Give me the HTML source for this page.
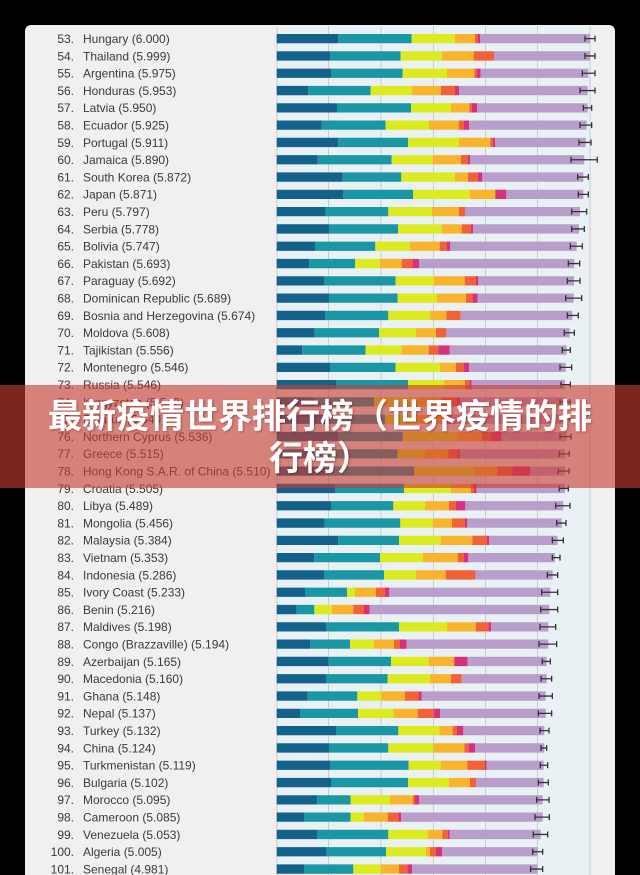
<!DOCTYPE html>
<html>
<head>
<meta charset="utf-8">
<style>
html,body{margin:0;padding:0;background:#000;}
body{width:640px;height:875px;position:relative;overflow:hidden;}
svg{position:absolute;left:0;top:0;}
text{font-family:"Liberation Sans",sans-serif;font-size:12px;fill:#3a3a3a;}
text.r{text-anchor:end;}
path{fill:none;stroke-width:9.3;}
.a{stroke:#12628c}.b{stroke:#1a97a4}.c{stroke:#dbeb1f}.d{stroke:#f8b42c}.e{stroke:#f16337}.f{stroke:#d9307a}.g{stroke:#b99dca}
.er{stroke:#333;stroke-width:1.3;vector-effect:non-scaling-stroke;}
#banner{position:absolute;left:0;top:385px;width:640px;height:103px;background:rgba(200,62,52,0.62);}
#title{position:absolute;left:0;top:396px;width:640px;text-align:center;color:#fff;font-family:"Liberation Sans","Noto Sans CJK SC",sans-serif;font-weight:700;font-size:34px;line-height:42px;white-space:nowrap;text-shadow:1px 1px 2px rgba(80,0,0,0.35);}
</style>
</head>
<body>
<svg width="640" height="875" viewBox="0 0 640 875" xmlns="http://www.w3.org/2000/svg">
<rect x="25" y="25" width="590" height="870" rx="6" fill="#f0f0f0"/>
<rect x="277" y="26" width="313" height="849" fill="#e9f1f5"/>
<g stroke="#c9cdd0" stroke-width="1">
<line x1="277" y1="26" x2="277" y2="875"/>
<line x1="328.5" y1="26" x2="328.5" y2="875"/>
<line x1="381" y1="26" x2="381" y2="875"/>
<line x1="433.5" y1="26" x2="433.5" y2="875"/>
<line x1="485.5" y1="26" x2="485.5" y2="875"/>
<line x1="537.5" y1="26" x2="537.5" y2="875"/>
<line x1="590" y1="26" x2="590" y2="875"/>
</g>

<g transform="translate(0,38.65)"><text x="74" y="4.3" class="r">53.</text><text x="83" y="4.3">Hungary (6.000)</text><g transform="translate(275 0) scale(.33333 1)"><path class="a" d="M5 0H190"/><path class="b" d="M190 0H410"/><path class="c" d="M410 0H540"/><path class="d" d="M540 0H600"/><path class="e" d="M600 0H608"/><path class="f" d="M608 0H615"/><path class="g" d="M615 0H945"/><path class="er" d="M930 0H960M930 -3V3M960 -3V3"/></g></g>
<g transform="translate(0,55.95)"><text x="74" y="4.3" class="r">54.</text><text x="83" y="4.3">Thailand (5.999)</text><g transform="translate(275 0) scale(.33333 1)"><path class="a" d="M5 0H165"/><path class="b" d="M165 0H377"/><path class="c" d="M377 0H500"/><path class="d" d="M500 0H596"/><path class="e" d="M596 0H657"/><path class="g" d="M657 0H945"/><path class="er" d="M930 0H960M930 -3V3M960 -3V3"/></g></g>
<g transform="translate(0,73.25)"><text x="74" y="4.3" class="r">55.</text><text x="83" y="4.3">Argentina (5.975)</text><g transform="translate(275 0) scale(.33333 1)"><path class="a" d="M5 0H168"/><path class="b" d="M168 0H383"/><path class="c" d="M383 0H516"/><path class="d" d="M516 0H598"/><path class="e" d="M598 0H605"/><path class="f" d="M605 0H617"/><path class="g" d="M617 0H940"/><path class="er" d="M922 0H960M922 -3V3M960 -3V3"/></g></g>
<g transform="translate(0,90.55)"><text x="74" y="4.3" class="r">56.</text><text x="83" y="4.3">Honduras (5.953)</text><g transform="translate(275 0) scale(.33333 1)"><path class="a" d="M5 0H100"/><path class="b" d="M100 0H287"/><path class="c" d="M287 0H410"/><path class="d" d="M410 0H498"/><path class="e" d="M498 0H540"/><path class="f" d="M540 0H552"/><path class="g" d="M552 0H938"/><path class="er" d="M915 0H960M915 -3V3M960 -3V3"/></g></g>
<g transform="translate(0,107.85)"><text x="74" y="4.3" class="r">57.</text><text x="83" y="4.3">Latvia (5.950)</text><g transform="translate(275 0) scale(.33333 1)"><path class="a" d="M5 0H186"/><path class="b" d="M186 0H408"/><path class="c" d="M408 0H528"/><path class="d" d="M528 0H583"/><path class="e" d="M583 0H590"/><path class="f" d="M590 0H606"/><path class="g" d="M606 0H938"/><path class="er" d="M925 0H950M925 -3V3M950 -3V3"/></g></g>
<g transform="translate(0,125.15)"><text x="74" y="4.3" class="r">58.</text><text x="83" y="4.3">Ecuador (5.925)</text><g transform="translate(275 0) scale(.33333 1)"><path class="a" d="M5 0H140"/><path class="b" d="M140 0H332"/><path class="c" d="M332 0H462"/><path class="d" d="M462 0H551"/><path class="e" d="M551 0H567"/><path class="f" d="M567 0H582"/><path class="g" d="M582 0H935"/><path class="er" d="M915 0H950M915 -3V3M950 -3V3"/></g></g>
<g transform="translate(0,142.45)"><text x="74" y="4.3" class="r">59.</text><text x="83" y="4.3">Portugal (5.911)</text><g transform="translate(275 0) scale(.33333 1)"><path class="a" d="M5 0H190"/><path class="b" d="M190 0H399"/><path class="c" d="M399 0H552"/><path class="d" d="M552 0H646"/><path class="e" d="M646 0H653"/><path class="f" d="M653 0H660"/><path class="g" d="M660 0H932"/><path class="er" d="M912 0H948M912 -3V3M948 -3V3"/></g></g>
<g transform="translate(0,159.75)"><text x="74" y="4.3" class="r">60.</text><text x="83" y="4.3">Jamaica (5.890)</text><g transform="translate(275 0) scale(.33333 1)"><path class="a" d="M5 0H128"/><path class="b" d="M128 0H350"/><path class="c" d="M350 0H473"/><path class="d" d="M473 0H558"/><path class="e" d="M558 0H578"/><path class="f" d="M578 0H585"/><path class="g" d="M585 0H928"/><path class="er" d="M888 0H967M888 -3V3M967 -3V3"/></g></g>
<g transform="translate(0,177.05)"><text x="74" y="4.3" class="r">61.</text><text x="83" y="4.3">South Korea (5.872)</text><g transform="translate(275 0) scale(.33333 1)"><path class="a" d="M5 0H203"/><path class="b" d="M203 0H379"/><path class="c" d="M379 0H540"/><path class="d" d="M540 0H579"/><path class="e" d="M579 0H608"/><path class="f" d="M608 0H622"/><path class="g" d="M622 0H925"/><path class="er" d="M908 0H940M908 -3V3M940 -3V3"/></g></g>
<g transform="translate(0,194.35)"><text x="74" y="4.3" class="r">62.</text><text x="83" y="4.3">Japan (5.871)</text><g transform="translate(275 0) scale(.33333 1)"><path class="a" d="M5 0H205"/><path class="b" d="M205 0H414"/><path class="c" d="M414 0H585"/><path class="d" d="M585 0H660"/><path class="e" d="M660 0H662"/><path class="f" d="M662 0H694"/><path class="g" d="M694 0H925"/><path class="er" d="M910 0H940M910 -3V3M940 -3V3"/></g></g>
<g transform="translate(0,211.65)"><text x="74" y="4.3" class="r">63.</text><text x="83" y="4.3">Peru (5.797)</text><g transform="translate(275 0) scale(.33333 1)"><path class="a" d="M5 0H152"/><path class="b" d="M152 0H340"/><path class="c" d="M340 0H470"/><path class="d" d="M470 0H552"/><path class="e" d="M552 0H570"/><path class="g" d="M570 0H915"/><path class="er" d="M890 0H935M890 -3V3M935 -3V3"/></g></g>
<g transform="translate(0,228.95)"><text x="74" y="4.3" class="r">64.</text><text x="83" y="4.3">Serbia (5.778)</text><g transform="translate(275 0) scale(.33333 1)"><path class="a" d="M5 0H162"/><path class="b" d="M162 0H369"/><path class="c" d="M369 0H500"/><path class="d" d="M500 0H560"/><path class="e" d="M560 0H588"/><path class="f" d="M588 0H594"/><path class="g" d="M594 0H912"/><path class="er" d="M890 0H928M890 -3V3M928 -3V3"/></g></g>
<g transform="translate(0,246.25)"><text x="74" y="4.3" class="r">65.</text><text x="83" y="4.3">Bolivia (5.747)</text><g transform="translate(275 0) scale(.33333 1)"><path class="a" d="M5 0H120"/><path class="b" d="M120 0H301"/><path class="c" d="M301 0H404"/><path class="d" d="M404 0H494"/><path class="e" d="M494 0H516"/><path class="f" d="M516 0H526"/><path class="g" d="M526 0H905"/><path class="er" d="M886 0H922M886 -3V3M922 -3V3"/></g></g>
<g transform="translate(0,263.55)"><text x="74" y="4.3" class="r">66.</text><text x="83" y="4.3">Pakistan (5.693)</text><g transform="translate(275 0) scale(.33333 1)"><path class="a" d="M5 0H103"/><path class="b" d="M103 0H240"/><path class="c" d="M240 0H315"/><path class="d" d="M315 0H380"/><path class="e" d="M380 0H412"/><path class="f" d="M412 0H432"/><path class="g" d="M432 0H898"/><path class="er" d="M880 0H914M880 -3V3M914 -3V3"/></g></g>
<g transform="translate(0,280.85)"><text x="74" y="4.3" class="r">67.</text><text x="83" y="4.3">Paraguay (5.692)</text><g transform="translate(275 0) scale(.33333 1)"><path class="a" d="M5 0H147"/><path class="b" d="M147 0H362"/><path class="c" d="M362 0H477"/><path class="d" d="M477 0H569"/><path class="e" d="M569 0H602"/><path class="f" d="M602 0H610"/><path class="g" d="M610 0H897"/><path class="er" d="M877 0H915M877 -3V3M915 -3V3"/></g></g>
<g transform="translate(0,298.15)"><text x="74" y="4.3" class="r">68.</text><text x="83" y="4.3">Dominican Republic (5.689)</text><g transform="translate(275 0) scale(.33333 1)"><path class="a" d="M5 0H162"/><path class="b" d="M162 0H368"/><path class="c" d="M368 0H486"/><path class="d" d="M486 0H573"/><path class="e" d="M573 0H592"/><path class="f" d="M592 0H608"/><path class="g" d="M608 0H896"/><path class="er" d="M872 0H920M872 -3V3M920 -3V3"/></g></g>
<g transform="translate(0,315.45)"><text x="74" y="4.3" class="r">69.</text><text x="83" y="4.3">Bosnia and Herzegovina (5.674)</text><g transform="translate(275 0) scale(.33333 1)"><path class="a" d="M5 0H151"/><path class="b" d="M151 0H340"/><path class="c" d="M340 0H466"/><path class="d" d="M466 0H514"/><path class="e" d="M514 0H557"/><path class="g" d="M557 0H892"/><path class="er" d="M877 0H910M877 -3V3M910 -3V3"/></g></g>
<g transform="translate(0,332.75)"><text x="74" y="4.3" class="r">70.</text><text x="83" y="4.3">Moldova (5.608)</text><g transform="translate(275 0) scale(.33333 1)"><path class="a" d="M5 0H119"/><path class="b" d="M119 0H312"/><path class="c" d="M312 0H423"/><path class="d" d="M423 0H483"/><path class="e" d="M483 0H513"/><path class="g" d="M513 0H884"/><path class="er" d="M868 0H898M868 -3V3M898 -3V3"/></g></g>
<g transform="translate(0,350.05)"><text x="74" y="4.3" class="r">71.</text><text x="83" y="4.3">Tajikistan (5.556)</text><g transform="translate(275 0) scale(.33333 1)"><path class="a" d="M5 0H82"/><path class="b" d="M82 0H272"/><path class="c" d="M272 0H379"/><path class="d" d="M379 0H461"/><path class="e" d="M461 0H490"/><path class="f" d="M490 0H524"/><path class="g" d="M524 0H875"/><path class="er" d="M862 0H886M862 -3V3M886 -3V3"/></g></g>
<g transform="translate(0,367.35)"><text x="74" y="4.3" class="r">72.</text><text x="83" y="4.3">Montenegro (5.546)</text><g transform="translate(275 0) scale(.33333 1)"><path class="a" d="M5 0H165"/><path class="b" d="M165 0H362"/><path class="c" d="M362 0H495"/><path class="d" d="M495 0H543"/><path class="e" d="M543 0H566"/><path class="f" d="M566 0H582"/><path class="g" d="M582 0H872"/><path class="er" d="M855 0H890M855 -3V3M890 -3V3"/></g></g>
<g transform="translate(0,384.65)"><text x="74" y="4.3" class="r">73.</text><text x="83" y="4.3">Russia (5.546)</text><g transform="translate(275 0) scale(.33333 1)"><path class="a" d="M5 0H183"/><path class="b" d="M183 0H399"/><path class="c" d="M399 0H508"/><path class="d" d="M508 0H570"/><path class="e" d="M570 0H583"/><path class="f" d="M583 0H590"/><path class="g" d="M590 0H870"/><path class="er" d="M858 0H886M858 -3V3M886 -3V3"/></g></g>
<g transform="translate(0,401.95)"><text x="74" y="4.3" class="r">74.</text><text x="83" y="4.3">Kyrgyzstan (5.542)</text><g transform="translate(275 0) scale(.33333 1)"><path class="a" d="M5 0H120"/><path class="b" d="M120 0H297"/><path class="c" d="M297 0H430"/><path class="d" d="M430 0H500"/><path class="e" d="M500 0H545"/><path class="f" d="M545 0H555"/><path class="g" d="M555 0H875"/><path class="er" d="M855 0H885M855 -3V3M885 -3V3"/></g></g>
<g transform="translate(0,419.25)"><text x="74" y="4.3" class="r">75.</text><text x="83" y="4.3">Belarus (5.540)</text><g transform="translate(275 0) scale(.33333 1)"><path class="a" d="M5 0H150"/><path class="b" d="M150 0H330"/><path class="c" d="M330 0H430"/><path class="d" d="M430 0H500"/><path class="e" d="M500 0H520"/><path class="f" d="M520 0H530"/><path class="g" d="M530 0H873"/><path class="er" d="M855 0H885M855 -3V3M885 -3V3"/></g></g>
<g transform="translate(0,436.55)"><text x="74" y="4.3" class="r">76.</text><text x="83" y="4.3">Northern Cyprus (5.536)</text><g transform="translate(275 0) scale(.33333 1)"><path class="a" d="M5 0H190"/><path class="b" d="M190 0H383"/><path class="c" d="M383 0H545"/><path class="d" d="M545 0H620"/><path class="e" d="M620 0H648"/><path class="f" d="M648 0H680"/><path class="g" d="M680 0H875"/><path class="er" d="M855 0H888M855 -3V3M888 -3V3"/></g></g>
<g transform="translate(0,453.85)"><text x="74" y="4.3" class="r">77.</text><text x="83" y="4.3">Greece (5.515)</text><g transform="translate(275 0) scale(.33333 1)"><path class="a" d="M5 0H110"/><path class="b" d="M110 0H368"/><path class="c" d="M368 0H450"/><path class="d" d="M450 0H520"/><path class="e" d="M520 0H547"/><path class="f" d="M547 0H555"/><path class="g" d="M555 0H870"/><path class="er" d="M853 0H883M853 -3V3M883 -3V3"/></g></g>
<g transform="translate(0,471.15)"><text x="74" y="4.3" class="r">78.</text><text x="83" y="4.3">Hong Kong S.A.R. of China (5.510)</text><g transform="translate(275 0) scale(.33333 1)"><path class="a" d="M5 0H150"/><path class="b" d="M150 0H418"/><path class="c" d="M418 0H597"/><path class="d" d="M597 0H667"/><path class="e" d="M667 0H712"/><path class="f" d="M712 0H765"/><path class="g" d="M765 0H870"/><path class="er" d="M850 0H882M850 -3V3M882 -3V3"/></g></g>
<g transform="translate(0,488.45)"><text x="74" y="4.3" class="r">79.</text><text x="83" y="4.3">Croatia (5.505)</text><g transform="translate(275 0) scale(.33333 1)"><path class="a" d="M5 0H180"/><path class="b" d="M180 0H387"/><path class="c" d="M387 0H528"/><path class="d" d="M528 0H588"/><path class="e" d="M588 0H597"/><path class="f" d="M597 0H605"/><path class="g" d="M605 0H870"/><path class="er" d="M853 0H880M853 -3V3M880 -3V3"/></g></g>
<g transform="translate(0,505.75)"><text x="74" y="4.3" class="r">80.</text><text x="83" y="4.3">Libya (5.489)</text><g transform="translate(275 0) scale(.33333 1)"><path class="a" d="M5 0H168"/><path class="b" d="M168 0H355"/><path class="c" d="M355 0H450"/><path class="d" d="M450 0H522"/><path class="e" d="M522 0H543"/><path class="f" d="M543 0H571"/><path class="g" d="M571 0H865"/><path class="er" d="M842 0H885M842 -3V3M885 -3V3"/></g></g>
<g transform="translate(0,523.05)"><text x="74" y="4.3" class="r">81.</text><text x="83" y="4.3">Mongolia (5.456)</text><g transform="translate(275 0) scale(.33333 1)"><path class="a" d="M5 0H149"/><path class="b" d="M149 0H376"/><path class="c" d="M376 0H474"/><path class="d" d="M474 0H531"/><path class="e" d="M531 0H570"/><path class="f" d="M570 0H577"/><path class="g" d="M577 0H860"/><path class="er" d="M845 0H873M845 -3V3M873 -3V3"/></g></g>
<g transform="translate(0,540.35)"><text x="74" y="4.3" class="r">82.</text><text x="83" y="4.3">Malaysia (5.384)</text><g transform="translate(275 0) scale(.33333 1)"><path class="a" d="M5 0H190"/><path class="b" d="M190 0H372"/><path class="c" d="M372 0H497"/><path class="d" d="M497 0H592"/><path class="e" d="M592 0H636"/><path class="f" d="M636 0H642"/><path class="g" d="M642 0H848"/><path class="er" d="M832 0H865M832 -3V3M865 -3V3"/></g></g>
<g transform="translate(0,557.65)"><text x="74" y="4.3" class="r">83.</text><text x="83" y="4.3">Vietnam (5.353)</text><g transform="translate(275 0) scale(.33333 1)"><path class="a" d="M5 0H118"/><path class="b" d="M118 0H315"/><path class="c" d="M315 0H443"/><path class="d" d="M443 0H548"/><path class="e" d="M548 0H567"/><path class="f" d="M567 0H580"/><path class="g" d="M580 0H840"/><path class="er" d="M832 0H855M832 -3V3M855 -3V3"/></g></g>
<g transform="translate(0,574.95)"><text x="74" y="4.3" class="r">84.</text><text x="83" y="4.3">Indonesia (5.286)</text><g transform="translate(275 0) scale(.33333 1)"><path class="a" d="M5 0H147"/><path class="b" d="M147 0H327"/><path class="c" d="M327 0H422"/><path class="d" d="M422 0H512"/><path class="e" d="M512 0H598"/><path class="f" d="M598 0H601"/><path class="g" d="M601 0H833"/><path class="er" d="M817 0H848M817 -3V3M848 -3V3"/></g></g>
<g transform="translate(0,592.25)"><text x="74" y="4.3" class="r">85.</text><text x="83" y="4.3">Ivory Coast (5.233)</text><g transform="translate(275 0) scale(.33333 1)"><path class="a" d="M5 0H90"/><path class="b" d="M90 0H216"/><path class="c" d="M216 0H240"/><path class="d" d="M240 0H303"/><path class="e" d="M303 0H330"/><path class="f" d="M330 0H343"/><path class="g" d="M343 0H826"/><path class="er" d="M800 0H848M800 -3V3M848 -3V3"/></g></g>
<g transform="translate(0,609.55)"><text x="74" y="4.3" class="r">86.</text><text x="83" y="4.3">Benin (5.216)</text><g transform="translate(275 0) scale(.33333 1)"><path class="a" d="M5 0H65"/><path class="b" d="M65 0H118"/><path class="c" d="M118 0H170"/><path class="d" d="M170 0H235"/><path class="e" d="M235 0H267"/><path class="f" d="M267 0H284"/><path class="g" d="M284 0H823"/><path class="er" d="M797 0H848M797 -3V3M848 -3V3"/></g></g>
<g transform="translate(0,626.85)"><text x="74" y="4.3" class="r">87.</text><text x="83" y="4.3">Maldives (5.198)</text><g transform="translate(275 0) scale(.33333 1)"><path class="a" d="M5 0H153"/><path class="b" d="M153 0H372"/><path class="c" d="M372 0H516"/><path class="d" d="M516 0H602"/><path class="e" d="M602 0H640"/><path class="f" d="M640 0H648"/><path class="g" d="M648 0H820"/><path class="er" d="M795 0H842M795 -3V3M842 -3V3"/></g></g>
<g transform="translate(0,644.15)"><text x="74" y="4.3" class="r">88.</text><text x="83" y="4.3">Congo (Brazzaville) (5.194)</text><g transform="translate(275 0) scale(.33333 1)"><path class="a" d="M5 0H106"/><path class="b" d="M106 0H225"/><path class="c" d="M225 0H297"/><path class="d" d="M297 0H357"/><path class="e" d="M357 0H375"/><path class="f" d="M375 0H395"/><path class="g" d="M395 0H820"/><path class="er" d="M792 0H845M792 -3V3M845 -3V3"/></g></g>
<g transform="translate(0,661.45)"><text x="74" y="4.3" class="r">89.</text><text x="83" y="4.3">Azerbaijan (5.165)</text><g transform="translate(275 0) scale(.33333 1)"><path class="a" d="M5 0H161"/><path class="b" d="M161 0H348"/><path class="c" d="M348 0H461"/><path class="d" d="M461 0H536"/><path class="e" d="M536 0H540"/><path class="f" d="M540 0H578"/><path class="g" d="M578 0H815"/><path class="er" d="M802 0H826M802 -3V3M826 -3V3"/></g></g>
<g transform="translate(0,678.75)"><text x="74" y="4.3" class="r">90.</text><text x="83" y="4.3">Macedonia (5.160)</text><g transform="translate(275 0) scale(.33333 1)"><path class="a" d="M5 0H153"/><path class="b" d="M153 0H338"/><path class="c" d="M338 0H465"/><path class="d" d="M465 0H528"/><path class="e" d="M528 0H560"/><path class="g" d="M560 0H815"/><path class="er" d="M798 0H830M798 -3V3M830 -3V3"/></g></g>
<g transform="translate(0,696.05)"><text x="74" y="4.3" class="r">91.</text><text x="83" y="4.3">Ghana (5.148)</text><g transform="translate(275 0) scale(.33333 1)"><path class="a" d="M5 0H98"/><path class="b" d="M98 0H247"/><path class="c" d="M247 0H318"/><path class="d" d="M318 0H390"/><path class="e" d="M390 0H432"/><path class="f" d="M432 0H440"/><path class="g" d="M440 0H812"/><path class="er" d="M792 0H832M792 -3V3M832 -3V3"/></g></g>
<g transform="translate(0,713.35)"><text x="74" y="4.3" class="r">92.</text><text x="83" y="4.3">Nepal (5.137)</text><g transform="translate(275 0) scale(.33333 1)"><path class="a" d="M5 0H75"/><path class="b" d="M75 0H249"/><path class="c" d="M249 0H355"/><path class="d" d="M355 0H428"/><path class="e" d="M428 0H476"/><path class="f" d="M476 0H495"/><path class="g" d="M495 0H812"/><path class="er" d="M790 0H830M790 -3V3M830 -3V3"/></g></g>
<g transform="translate(0,730.65)"><text x="74" y="4.3" class="r">93.</text><text x="83" y="4.3">Turkey (5.132)</text><g transform="translate(275 0) scale(.33333 1)"><path class="a" d="M5 0H183"/><path class="b" d="M183 0H370"/><path class="c" d="M370 0H493"/><path class="d" d="M493 0H533"/><path class="e" d="M533 0H546"/><path class="f" d="M546 0H565"/><path class="g" d="M565 0H808"/><path class="er" d="M795 0H822M795 -3V3M822 -3V3"/></g></g>
<g transform="translate(0,747.95)"><text x="74" y="4.3" class="r">94.</text><text x="83" y="4.3">China (5.124)</text><g transform="translate(275 0) scale(.33333 1)"><path class="a" d="M5 0H162"/><path class="b" d="M162 0H340"/><path class="c" d="M340 0H475"/><path class="d" d="M475 0H568"/><path class="e" d="M568 0H581"/><path class="f" d="M581 0H600"/><path class="g" d="M600 0H808"/><path class="er" d="M798 0H815M798 -3V3M815 -3V3"/></g></g>
<g transform="translate(0,765.25)"><text x="74" y="4.3" class="r">95.</text><text x="83" y="4.3">Turkmenistan (5.119)</text><g transform="translate(275 0) scale(.33333 1)"><path class="a" d="M5 0H165"/><path class="b" d="M165 0H401"/><path class="c" d="M401 0H497"/><path class="d" d="M497 0H577"/><path class="e" d="M577 0H630"/><path class="f" d="M630 0H635"/><path class="g" d="M635 0H806"/><path class="er" d="M796 0H818M796 -3V3M818 -3V3"/></g></g>
<g transform="translate(0,782.55)"><text x="74" y="4.3" class="r">96.</text><text x="83" y="4.3">Bulgaria (5.102)</text><g transform="translate(275 0) scale(.33333 1)"><path class="a" d="M5 0H170"/><path class="b" d="M170 0H399"/><path class="c" d="M399 0H522"/><path class="d" d="M522 0H585"/><path class="e" d="M585 0H603"/><path class="g" d="M603 0H806"/><path class="er" d="M790 0H820M790 -3V3M820 -3V3"/></g></g>
<g transform="translate(0,799.85)"><text x="74" y="4.3" class="r">97.</text><text x="83" y="4.3">Morocco (5.095)</text><g transform="translate(275 0) scale(.33333 1)"><path class="a" d="M5 0H127"/><path class="b" d="M127 0H227"/><path class="c" d="M227 0H345"/><path class="d" d="M345 0H414"/><path class="e" d="M414 0H420"/><path class="f" d="M420 0H432"/><path class="g" d="M432 0H803"/><path class="er" d="M785 0H822M785 -3V3M822 -3V3"/></g></g>
<g transform="translate(0,817.15)"><text x="74" y="4.3" class="r">98.</text><text x="83" y="4.3">Cameroon (5.085)</text><g transform="translate(275 0) scale(.33333 1)"><path class="a" d="M5 0H87"/><path class="b" d="M87 0H227"/><path class="c" d="M227 0H267"/><path class="d" d="M267 0H338"/><path class="e" d="M338 0H370"/><path class="f" d="M370 0H378"/><path class="g" d="M378 0H803"/><path class="er" d="M780 0H823M780 -3V3M823 -3V3"/></g></g>
<g transform="translate(0,834.45)"><text x="74" y="4.3" class="r">99.</text><text x="83" y="4.3">Venezuela (5.053)</text><g transform="translate(275 0) scale(.33333 1)"><path class="a" d="M5 0H127"/><path class="b" d="M127 0H340"/><path class="c" d="M340 0H459"/><path class="d" d="M459 0H502"/><path class="e" d="M502 0H518"/><path class="f" d="M518 0H524"/><path class="g" d="M524 0H797"/><path class="er" d="M775 0H818M775 -3V3M818 -3V3"/></g></g>
<g transform="translate(0,851.75)"><text x="74" y="4.3" class="r">100.</text><text x="83" y="4.3">Algeria (5.005)</text><g transform="translate(275 0) scale(.33333 1)"><path class="a" d="M5 0H155"/><path class="b" d="M155 0H333"/><path class="c" d="M333 0H453"/><path class="d" d="M453 0H465"/><path class="e" d="M465 0H483"/><path class="f" d="M483 0H501"/><path class="g" d="M501 0H788"/><path class="er" d="M773 0H803M773 -3V3M803 -3V3"/></g></g>
<g transform="translate(0,869.05)"><text x="74" y="4.3" class="r">101.</text><text x="83" y="4.3">Senegal (4.981)</text><g transform="translate(275 0) scale(.33333 1)"><path class="a" d="M5 0H87"/><path class="b" d="M87 0H235"/><path class="c" d="M235 0H317"/><path class="d" d="M317 0H372"/><path class="e" d="M372 0H397"/><path class="f" d="M397 0H411"/><path class="g" d="M411 0H787"/><path class="er" d="M767 0H803M767 -3V3M803 -3V3"/></g></g>
</svg>
<div id="banner"></div>
<div id="title">最新疫情世界排行榜（世界疫情的排<br>行榜）</div>
</body>
</html>
